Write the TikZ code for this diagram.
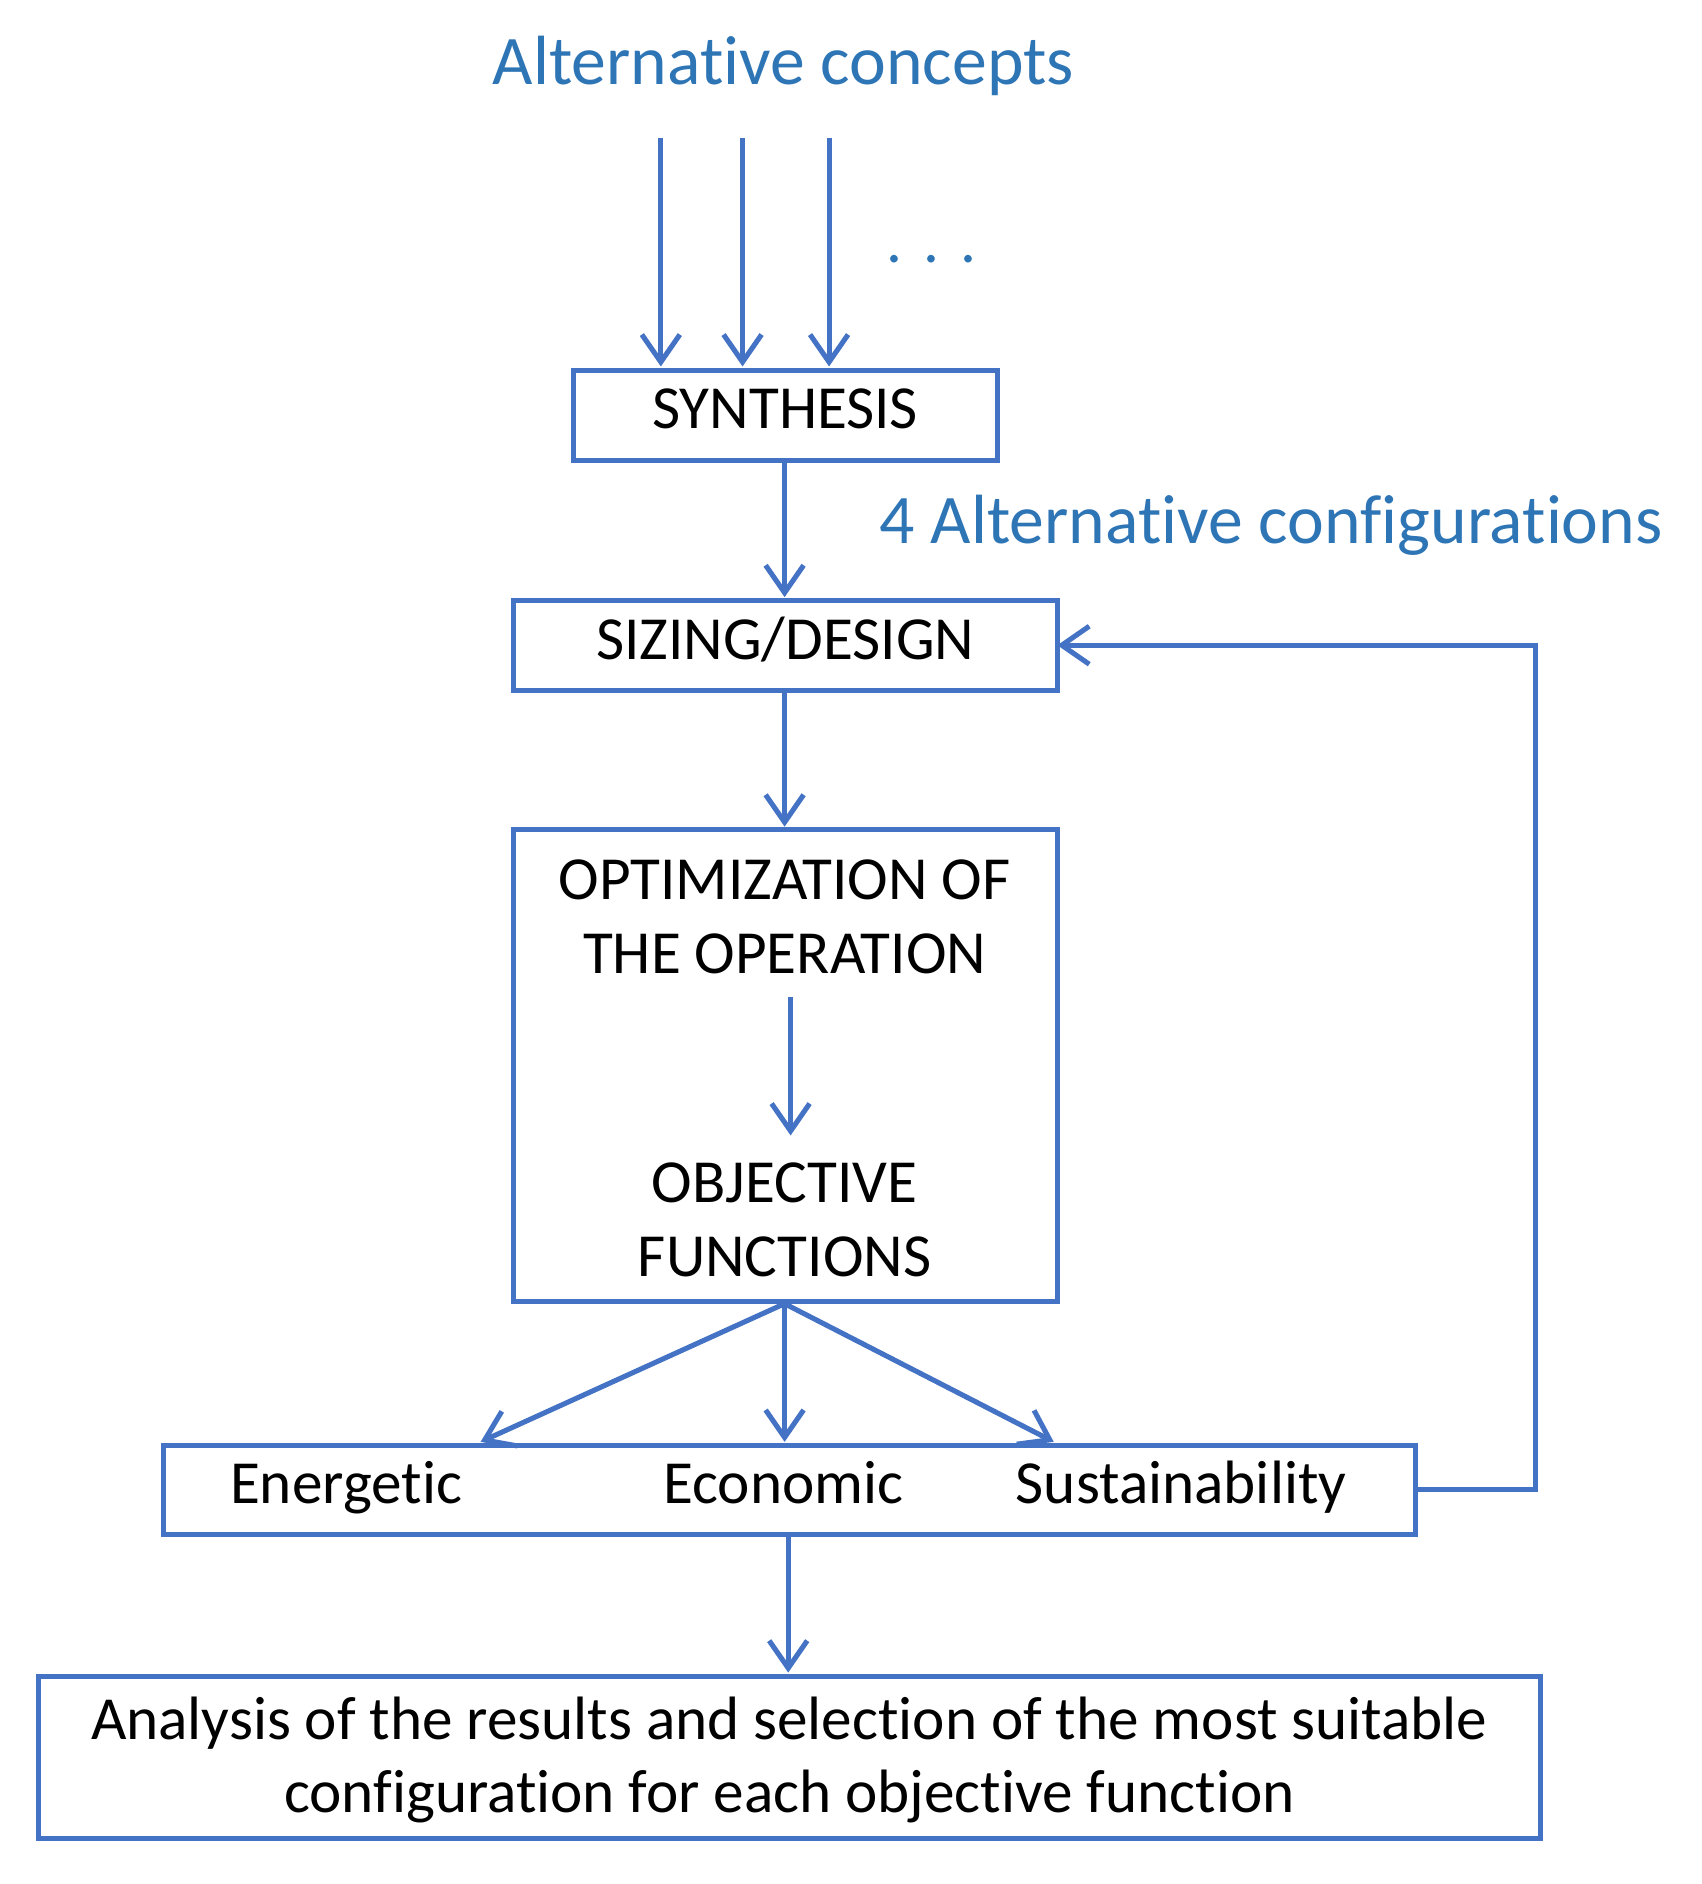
\documentclass[tikz,border=0pt]{standalone}
\usepackage{fontspec}
\setmainfont[Ligatures={NoCommon,NoContextual}]{Carlito}
\usetikzlibrary{arrows.meta}
\definecolor{ln}{HTML}{4472C4}
\definecolor{tb}{HTML}{2E75B6}
\begin{document}
\begin{tikzpicture}[x=0.02cm,y=-0.02cm,
  box/.style={draw=ln,line width=2.4pt},
  arr/.style={draw=ln,line width=2.4pt,-{Straight Barb[length=13pt,width=18pt,line width=2.4pt]}},
  mtxt/.style={font=\fontsize{29}{35}\selectfont,text=black,align=center},
  txt/.style={mtxt,text height=18pt,text depth=7pt},
  btxt/.style={font=\fontsize{33}{40}\selectfont,text=tb}]
\useasboundingbox (0,0) rectangle (1416,1568);
\node[btxt] (ac) at (652,55) {Alternative concepts};
\node[btxt] (cf) at (1058,437) {4 Alternative configurations};
\node[font=\fontsize{30}{36}\selectfont,text=tb] (dots) at (775,216) {.\,\,.\,\,.};
\coordinate (a1) at (550,115); \coordinate (a2) at (618,115); \coordinate (a3) at (690,115);
\draw[box] (477,308) rectangle (830,383);
\node[txt] (syn) at (653.5,347) {SYNTHESIS};
\coordinate (synb) at (653,383);
\draw[box] (427,500) rectangle (880,575);
\node[txt] (siz) at (653.5,539) {SIZING/DESIGN};
\coordinate (sizt) at (653,497); \coordinate (sizb) at (653,575); \coordinate (sizr) at (880,537);
\draw[box] (427,690) rectangle (880,1083);
\node[mtxt] (opt) at (653,763) {OPTIMIZATION OF\\THE OPERATION};
\node[mtxt] (obj) at (653,1015) {OBJECTIVE\\FUNCTIONS};
\coordinate (optt) at (653,688); \coordinate (optb) at (653,1085);
\coordinate (o1) at (658,830); \coordinate (o2) at (658,945);
\draw[box] (136,1203) rectangle (1178,1277);
\node[txt] (en) at (288,1242) {Energetic};
\node[txt] (ec) at (652,1242) {Economic};
\node[txt] (su) at (983,1242) {Sustainability};
\coordinate (e1) at (400,1200); \coordinate (e2) at (653,1200); \coordinate (e3) at (877,1200);
\coordinate (br) at (1178,1240); \coordinate (bb) at (656,1277);
\coordinate (fr1) at (1278,1240); \coordinate (fr2) at (1278,537);
\draw[box] (32,1395) rectangle (1282,1530);
\node[mtxt,font=\fontsize{29}{34.5}\selectfont] (an) at (657,1465) {Analysis of the results and selection of the most suitable\\configuration for each objective function};
\coordinate (ant) at (656,1392);
\draw[arr] (a1) -- (550,305);
\draw[arr] (a2) -- (618,305);
\draw[arr] (a3) -- (690,305);
\draw[arr] (synb) -- (sizt);
\draw[arr] (sizb) -- (optt);
\draw[arr] (o1) -- (o2);
\draw[arr] (optb) -- (e1);
\draw[arr] (optb) -- (e2);
\draw[arr] (optb) -- (e3);
\draw[arr] (bb) -- (ant);
\draw[arr] (br) -- (fr1) -- (fr2) -- (sizr);
\end{tikzpicture}
\end{document}
